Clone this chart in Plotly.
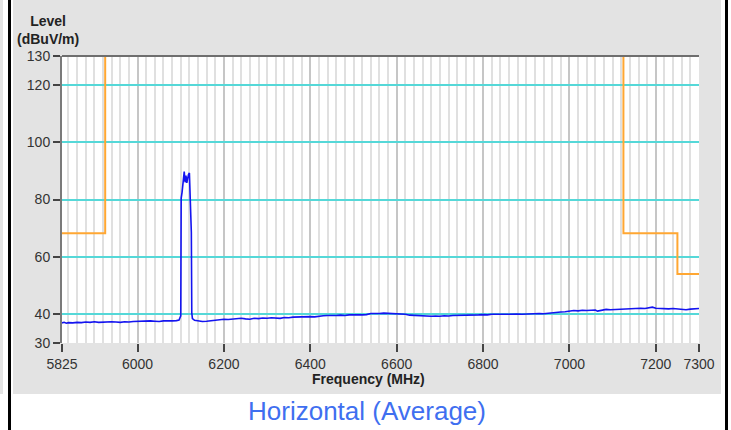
import plotly.graph_objects as go

# ---------------- data ----------------
freq_mhz = [5825, 5830, 5835, 5840, 5850, 5860, 5870, 5880, 5890, 5900, 5910, 5920, 5930,
            5940, 5950, 5960, 5970, 5980, 5990, 6000, 6010, 6020, 6030, 6040, 6050, 6060,
            6070, 6080, 6090, 6096, 6100, 6101, 6103, 6105, 6107, 6108, 6110, 6112, 6114,
            6116, 6118, 6120, 6121, 6122, 6123, 6124.5, 6125.5, 6127, 6132, 6140, 6150,
            6160, 6170, 6180, 6190, 6200, 6210, 6220, 6230, 6240, 6250, 6260, 6270, 6280,
            6290, 6300, 6310, 6320, 6330, 6340, 6350, 6360, 6370, 6380, 6390, 6400, 6410,
            6420, 6430, 6440, 6450, 6460, 6470, 6480, 6490, 6500, 6510, 6520, 6530, 6540,
            6550, 6560, 6570, 6580, 6590, 6600, 6610, 6620, 6630, 6640, 6650, 6660, 6670,
            6680, 6690, 6700, 6710, 6720, 6730, 6740, 6750, 6760, 6770, 6780, 6790, 6800,
            6810, 6820, 6830, 6840, 6850, 6860, 6870, 6880, 6890, 6900, 6910, 6920, 6930,
            6940, 6950, 6960, 6970, 6980, 6990, 7000, 7010, 7020, 7030, 7040, 7050, 7060,
            7065, 7075, 7085, 7095, 7105, 7115, 7125, 7135, 7145, 7155, 7165, 7175, 7185,
            7192, 7200, 7210, 7220, 7230, 7240, 7250, 7260, 7270, 7280, 7290, 7300]
level_dbuv = [37.0, 37.2, 36.9, 37.1, 37.0, 37.2, 37.1, 37.3, 37.2, 37.4, 37.2, 37.3, 37.2,
              37.4, 37.3, 37.2, 37.4, 37.3, 37.5, 37.6, 37.5, 37.6, 37.7, 37.6, 37.5, 37.7,
              37.6, 37.7, 37.8, 38.0, 39.5, 80.5, 82.5, 86.0, 88.5, 89.7, 86.0, 88.3, 85.8,
              88.0, 88.8, 89.2, 84.5, 80.0, 68.7, 68.5, 40.5, 38.5, 37.9, 37.7, 37.5,
              37.6, 37.8, 38.0, 38.2, 38.3, 38.2, 38.4, 38.5, 38.6, 38.4, 38.3, 38.6, 38.5,
              38.7, 38.6, 38.8, 38.7, 38.6, 38.9, 38.8, 39.0, 39.1, 39.2, 39.1, 39.2, 39.1,
              39.4, 39.5, 39.6, 39.5, 39.6, 39.7, 39.6, 39.8, 39.7, 39.8, 39.8, 39.9, 40.3,
              40.2, 40.3, 40.4, 40.3, 40.2, 40.3, 40.2, 40.0, 39.7, 39.6, 39.6, 39.5, 39.4,
              39.3, 39.4, 39.3, 39.5, 39.4, 39.6, 39.6, 39.7, 39.6, 39.8, 39.7, 39.8, 39.9,
              39.8, 40.0, 39.9, 40.0, 40.0, 40.1, 40.0, 40.1, 40.0, 40.1, 40.2, 40.1, 40.3,
              40.2, 40.4, 40.5, 40.7, 40.8, 40.9, 41.2, 41.3, 41.2, 41.4, 41.3, 41.4, 41.5,
              41.1, 41.3, 41.7, 41.6, 41.7, 41.8, 41.7, 41.8, 41.9, 42.0, 42.1, 42.0, 42.2,
              42.5, 42.1, 42.0, 42.1, 41.9, 42.0, 41.9, 41.8, 41.6, 41.8, 41.9, 42.0]

limit_left_freq = [5825, 5925, 5925]
limit_left_level = [68.2, 68.2, 130]
limit_right_freq = [7125, 7125, 7250, 7250, 7300]
limit_right_level = [130, 68.2, 68.2, 54, 54]

x_tick_vals = [5825, 6000, 6200, 6400, 6600, 6800, 7000, 7200, 7300]
x_major_grid = [6000, 6200, 6400, 6600, 6800, 7000, 7200]
x_minor_grid = list(range(5840, 7301, 20))
y_tick_vals = [30, 40, 60, 80, 100, 120, 130]
y_grid_vals = [40, 60, 80, 100, 120]

title_text = "Horizontal (Average)"
x_title = "Frequency (MHz)"
y_title = "Level<br>(dBuV/m)"

# ---------------- layout geometry (pixels) ----------------
W, H = 731, 430
L, R, T, B = 62, 699, 56, 343


def px(x):
    return (x - L) / (R - L)


def py(y):
    return (B - y) / (B - T)


FONT = "Arial, Liberation Sans, sans-serif"
PANEL = "#e3e3e3"

fig = go.Figure()
fig.add_trace(go.Scatter(x=freq_mhz, y=level_dbuv, mode="lines",
                         line=dict(color="#1414f0", width=1.6), hoverinfo="skip",
                         xaxis="x", yaxis="y"))
fig.add_trace(go.Scatter(x=limit_left_freq, y=limit_left_level, mode="lines",
                         line=dict(color="#ffa733", width=2), hoverinfo="skip",
                         xaxis="x2", yaxis="y2"))
fig.add_trace(go.Scatter(x=limit_right_freq, y=limit_right_level, mode="lines",
                         line=dict(color="#ffa733", width=2), hoverinfo="skip",
                         xaxis="x2", yaxis="y2"))

tickfont = dict(family=FONT, size=14, color="#333333")

fig.update_layout(
    width=W, height=H,
    margin=dict(l=L, r=W - R, t=T, b=H - B, pad=0),
    paper_bgcolor=PANEL, plot_bgcolor="white",
    showlegend=False,
    xaxis=dict(range=[5825, 7300], tickmode="array", tickvals=x_major_grid,
               showticklabels=False, ticks="", showgrid=True, gridcolor="#c6c6c6",
               gridwidth=2, zeroline=False, showline=False,
               minor=dict(tickmode="array", tickvals=x_minor_grid, showgrid=True,
                          gridcolor="#e0e0e0", gridwidth=2, ticks="")),
    yaxis=dict(range=[30, 130], tickmode="array", tickvals=y_grid_vals,
               showticklabels=False, ticks="", showgrid=True, gridcolor="#55d8d8",
               gridwidth=2, zeroline=False, showline=False),
    xaxis2=dict(range=[5825, 7300], overlaying="x", anchor="y2", side="bottom",
                tickmode="array", tickvals=x_tick_vals, ticks="outside", ticklen=8,
                tickwidth=1.5, tickcolor="#444444", tickfont=tickfont,
                showgrid=False, zeroline=False, showline=False),
    yaxis2=dict(range=[30, 130], overlaying="y", anchor="x2", side="left",
                tickmode="array", tickvals=y_tick_vals, ticks="outside", ticklen=7,
                tickwidth=1.5, tickcolor="#444444", tickfont=tickfont,
                showgrid=False, zeroline=False, showline=True, linecolor="#7a7a7a",
                linewidth=2),
)

shapes = [
    # white strip below the grey panel
    dict(type="rect", xref="paper", yref="paper", x0=px(0), x1=px(W), y0=py(394), y1=py(H),
         fillcolor="white", line=dict(width=0), layer="below"),
    # white strips at the sides
    dict(type="rect", xref="paper", yref="paper", x0=px(3), x1=px(13), y0=py(0), y1=py(394),
         fillcolor="white", line=dict(width=0), layer="below"),
    dict(type="rect", xref="paper", yref="paper", x0=px(721), x1=px(W), y0=py(0), y1=py(394),
         fillcolor="white", line=dict(width=0), layer="below"),
    # black side bars
    dict(type="rect", xref="paper", yref="paper", x0=px(8), x1=px(11), y0=py(0), y1=py(H),
         fillcolor="black", line=dict(width=0), layer="below"),
    dict(type="rect", xref="paper", yref="paper", x0=px(725), x1=px(728), y0=py(0), y1=py(H),
         fillcolor="black", line=dict(width=0), layer="below"),
    # dark frame line at top of plot
    dict(type="line", xref="paper", yref="paper", x0=0, x1=1, y0=1, y1=1,
         line=dict(color="#6e6e6e", width=2), layer="above"),
]
fig.update_layout(shapes=shapes)

fig.add_annotation(text=y_title, xref="paper", yref="paper", x=px(48), y=py(30),
                   xanchor="center", yanchor="middle", showarrow=False, align="center",
                   font=dict(family=FONT, size=14, color="#222222", weight="bold"))
fig.add_annotation(text=x_title, xref="paper", yref="paper", x=px(368), y=py(379),
                   xanchor="center", yanchor="middle", showarrow=False,
                   font=dict(family=FONT, size=14, color="#222222", weight="bold"))
fig.add_annotation(text=title_text, xref="paper", yref="paper", x=px(367), y=py(411),
                   xanchor="center", yanchor="middle", showarrow=False,
                   font=dict(family=FONT, size=26, color="#3f6ff0"))

fig.write_html("out.html")
